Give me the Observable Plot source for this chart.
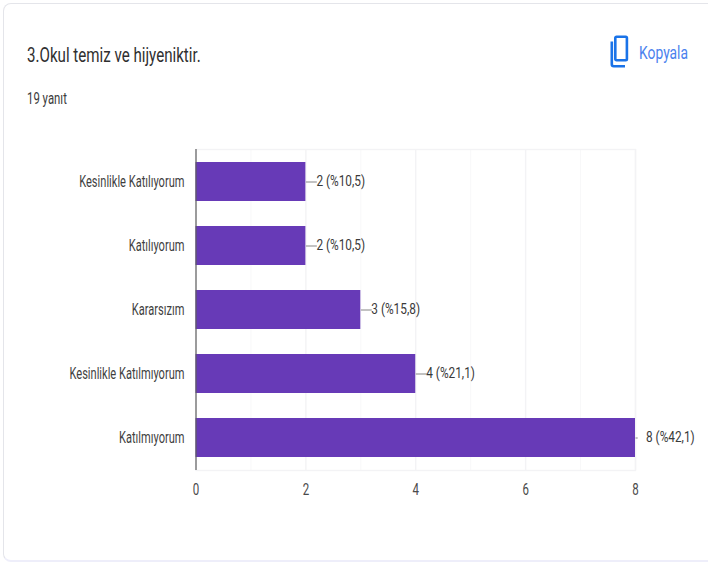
<!DOCTYPE html>
<html lang="tr">
<head>
<meta charset="utf-8">
<script src="https://cdn.jsdelivr.net/npm/d3@7"></script>
<script src="https://cdn.jsdelivr.net/npm/@observablehq/plot@0.6"></script>
<style>
html,body{margin:0;padding:0;background:#fff;width:708px;height:563px;overflow:hidden}
#card{position:absolute;left:3px;top:3px;width:720px;height:556px;border:1px solid #e4e5ea;border-bottom:2px solid #eeeefa;border-radius:8px;box-sizing:content-box}
.t{position:absolute;font-family:Roboto,sans-serif;white-space:nowrap;transform-origin:left center}
#title{left:26.5px;top:43px;font-size:21px;line-height:24px;color:#2f2f2f;transform:scaleX(.72)}
#sub{left:26.5px;top:90px;font-size:16px;line-height:18px;color:#3c3c3c;transform:scaleX(.71)}
#copy{left:639px;top:42px;font-size:18px;line-height:22px;color:#4b82ee;transform:scaleX(.77)}
#icon{position:absolute;left:610px;top:35px}
#chart{position:absolute;left:0;top:130px}
</style>
</head>
<body>
<div id="card"></div>
<div class="t" id="title">3.Okul temiz ve hijyeniktir.</div>
<div class="t" id="sub">19 yanıt</div>
<svg id="icon" width="19" height="33" viewBox="0 0 19 33" fill="none" stroke="#1a73e8" stroke-width="2.6">
  <rect x="5.3" y="1.8" width="11.6" height="23.4" rx="1.2"/>
  <path d="M1.8 6.5V29.2a2 2 0 0 0 2 2H15"/>
</svg>
<div class="t" id="copy">Kopyala</div>
<div id="chart"></div>
<script>
const categories = ["Kesinlikle Katılıyorum", "Katılıyorum", "Kararsızım", "Kesinlikle Katılmıyorum", "Katılmıyorum"];
const counts = [2, 2, 3, 4, 8];
const valueLabels = ["2 (%10,5)", "2 (%10,5)", "3 (%15,8)", "4 (%21,1)", "8 (%42,1)"];
const leaderEnds = [2.2, 2.2, 3.2, 4.2, 8.04];
const majorTicks = [2, 4, 6, 8];
const minorTicks = [1, 3, 5, 7];

const rows = categories.map((category, i) => ({
  category, count: counts[i], label: valueLabels[i], leaderEnd: leaderEnds[i]
}));

const chart = Plot.plot({
  width: 708,
  height: 380,
  marginLeft: 195.5,
  marginRight: 73,
  marginTop: 19,
  marginBottom: 40,
  style: {fontFamily: "Roboto,sans-serif", fontSize: "16px", background: "transparent", overflow: "visible"},
  x: {domain: [0, 8], ticks: [0, 2, 4, 6, 8], label: null},
  y: {domain: categories, label: null, paddingInner: 0.385, paddingOuter: 0.195},
  marks: [
    Plot.ruleX(minorTicks, {stroke: "#f8f8f9", strokeWidth: 1}),
    Plot.ruleX(majorTicks, {stroke: "#f3f3f5", strokeWidth: 1.4}),
    Plot.frame({stroke: "#f3f3f5", strokeWidth: 1.4}),
    Plot.barX(rows, {x: "count", y: "category", fill: "#673ab7"}),
    Plot.ruleX([0], {stroke: "#5f5f5f", strokeWidth: 1.2}),
    Plot.link(rows, {
      x1: "count", x2: "leaderEnd", y1: "category", y2: "category",
      stroke: "#9a9a9a", strokeWidth: 1.2
    }),
    Plot.text(rows, {
      x: "count", y: "category", text: "label", dx: 10.5, dy: -0.5,
      textAnchor: "start", fill: "#3a3a3a", fontSize: 14.8, lineAnchor: "middle",
      className: "value-label"
    }),
    Plot.axisY({tickSize: 0, tickPadding: 11.5, dy: -0.5, color: "#3f3f3f", fontSize: 16, className: "cat-label"}),
    Plot.axisX({tickSize: 0, tickPadding: 13, color: "#4a4a4a", fontSize: 16, className: "tick-label"})
  ]
});
document.getElementById("chart").appendChild(chart);

// The reference text is horizontally condensed: squeeze glyphs while keeping real text.
function condense(selector, factor) {
  chart.querySelectorAll(selector + " text").forEach(t => {
    const len = t.getComputedTextLength();
    t.setAttribute("textLength", len * factor);
    t.setAttribute("lengthAdjust", "spacingAndGlyphs");
  });
}
condense("g.cat-label", 0.692);
condense("g.value-label", 0.8);
condense("g.tick-label", 0.72);
</script>
</body>
</html>
